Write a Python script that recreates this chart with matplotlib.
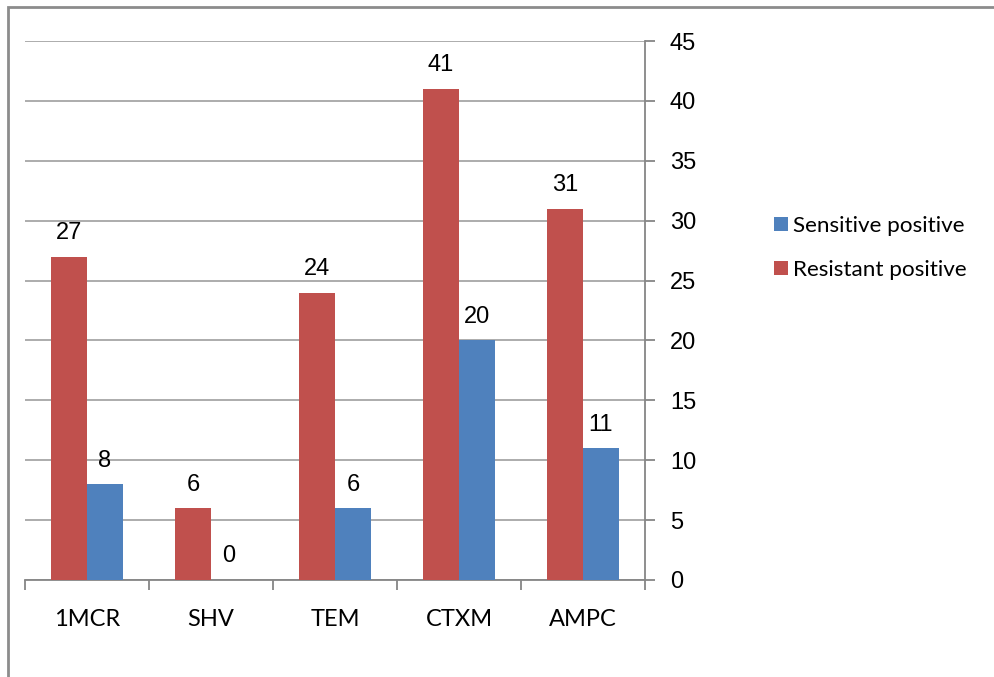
import matplotlib
matplotlib.use("Agg")
import matplotlib.pyplot as plt
from matplotlib.patches import Rectangle
import numpy as np

categories = ["1MCR", "SHV", "TEM", "CTXM", "AMPC"]
sensitive = [8, 0, 6, 20, 11]
resistant = [27, 6, 24, 41, 31]
yticks = [0, 5, 10, 15, 20, 25, 30, 35, 40, 45]

RED = "#C0504D"
BLUE = "#4F81BD"
GRID = "#A6A6A6"
AXIS = "#868686"

W, H = 994, 677
fig = plt.figure(figsize=(W / 100, H / 100), dpi=100)
ax = fig.add_axes([25 / W, 1 - 580 / H, 620 / W, 539 / H])

x = np.arange(len(categories))
bw = 0.29
bars_r = ax.bar(x - bw / 2, resistant, bw, color=RED, label="Resistant positive", zorder=3)
bars_s = ax.bar(x + bw / 2, sensitive, bw, color=BLUE, label="Sensitive positive", zorder=3)

for bars in (bars_r, bars_s):
    for b in bars:
        h = b.get_height()
        ax.annotate(f"{h:g}", (b.get_x() + b.get_width() / 2, h),
                    xytext=(0, 9), textcoords="offset points",
                    ha="center", va="bottom", fontsize=17,
                    family="Liberation Sans", color="#000000")

ax.set_xlim(-0.5, len(categories) - 0.5)
ax.set_ylim(0, 45)
ax.yaxis.tick_right()
ax.set_yticks(yticks)
ax.set_yticklabels([str(v) for v in yticks], fontsize=17, family="Liberation Sans")
ax.tick_params(axis="y", length=7, width=1.3, color=AXIS, pad=11)

ax.set_xticks(x)
ax.set_xticklabels(categories, fontsize=17, family="Lato")
ax.tick_params(axis="x", length=0, pad=21)
# category separators
ax.set_xticks(np.arange(len(categories) + 1) - 0.5, minor=True)
ax.tick_params(axis="x", which="minor", length=7, width=1.3, color=AXIS)

ax.grid(axis="y", color=GRID, linewidth=1.3, zorder=0)
for s in ("top", "left"):
    ax.spines[s].set_visible(False)
ax.spines["right"].set_color(AXIS)
ax.spines["right"].set_linewidth(1.3)
ax.spines["bottom"].set_color(AXIS)
ax.spines["bottom"].set_linewidth(1.3)

handles = [bars_s, bars_r]
leg = fig.legend(handles, ["Sensitive positive", "Resistant positive"],
                 loc="center left", bbox_to_anchor=(754 / W, 1 - 248 / H),
                 frameon=False, prop={"family": "Lato", "size": 16.2},
                 handlelength=0.6, handleheight=0.6, handletextpad=0.25,
                 labelspacing=1.05)

# outer chart frame
fig.patches.append(Rectangle((7.5 / W, -0.1), 1.2, 1 - 6.5 / H + 0.1,
                             transform=fig.transFigure, fill=False,
                             edgecolor="#8C8C8C", linewidth=2))

fig.savefig("out.png", dpi=100, facecolor="white")
